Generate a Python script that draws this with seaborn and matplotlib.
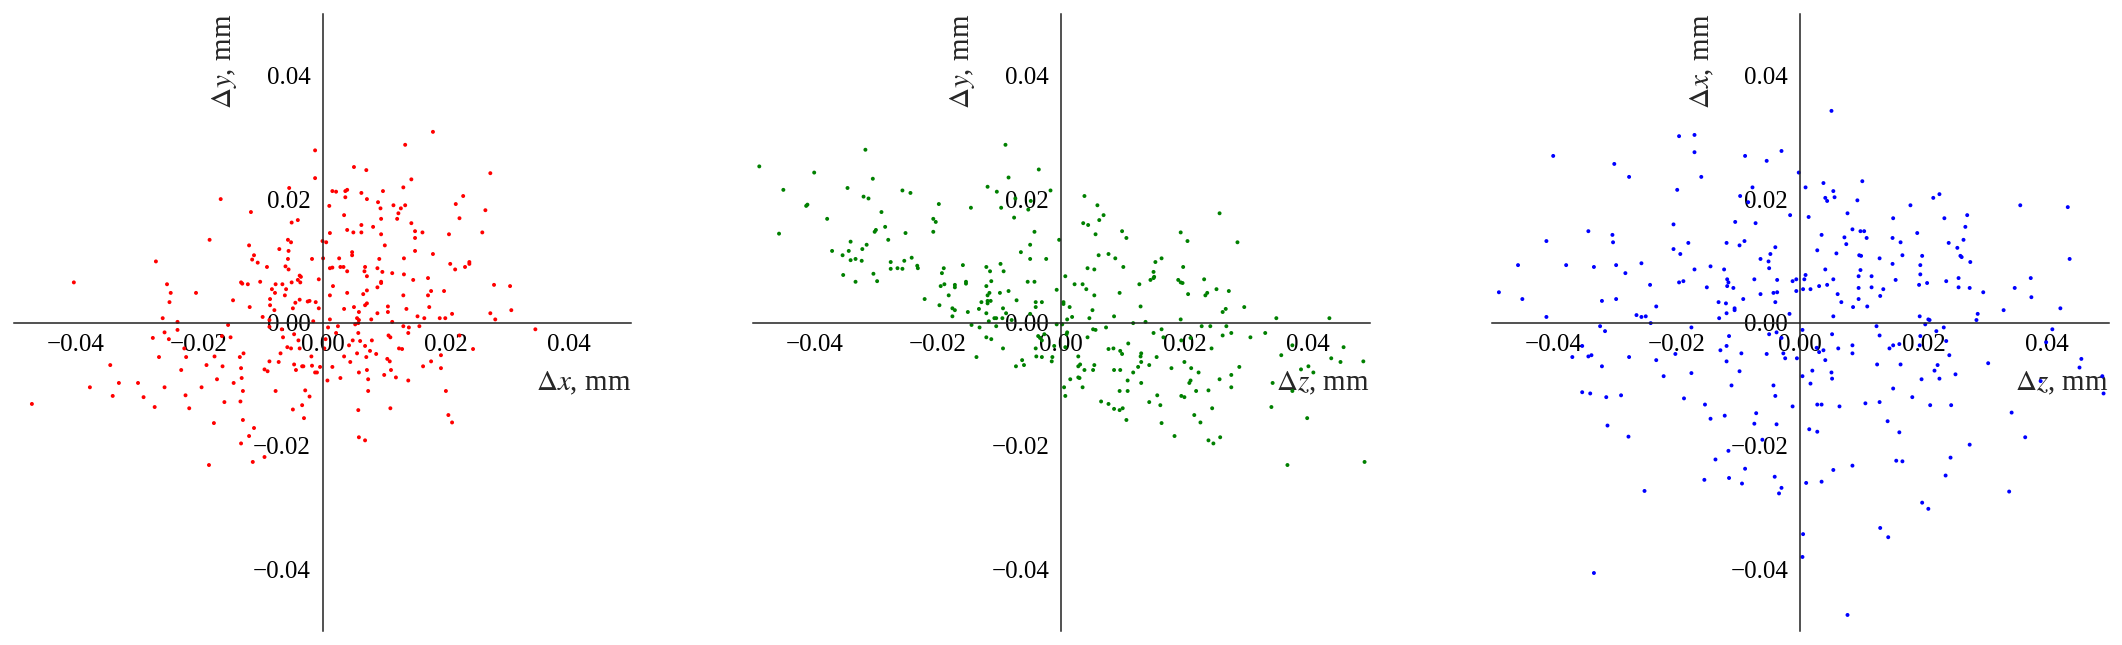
import matplotlib
matplotlib.use("Agg")
import matplotlib.pyplot as plt
import numpy as np
import pandas as pd
import seaborn as sns

# All coordinates in units of 1e-3 mm
# ---- Panel 1: dx (horizontal) vs dy (vertical)
p1_neg_x = [-1.2,-1.2,-5.4,-16.5,-11.6,-4.0,-5.0,-18.3,-5.6,-5.1,
            -11.9,-7.0,-5.5,-11.1,-1.7,-11.4,-5.6,-27.0,-10.5,-9.0,
            -6.0,-5.5,-3.7,-3.5,-0.6,-4.0,-3.6,-5.0,-40.3,-13.2,
            -13.0,-12.1,-10.1,-25.2,-7.6,-6.5,-8.2,-5.9,-7.7,-24.6,
            -20.5,-6.1,-8.5,-3.7,-2.4,-2.1,-1.1,-14.5,-4.4,-24.8,
            -8.5,-7.8,-4.8,-0.6,-11.8,-25.9,-9.7,-1.5,-8.6,-23.5,
            -15.3,-8.6,-25.6,-23.5,-6.6,-4.6,-16.3,-14.9,-27.5,-24.9,
            -6.4,-3.9,-5.7,-5.1,-3.7,-22.4,-6.8,-22.1,-26.5,-12.8,
            -13.4,-17.5,-1.8,-8.6,-7.1,-4.6,-3.3,-3.1,-1.7,-0.4,
            -34.4,-18.8,-16.2,-13.2,-9.4,-8.9,-4.3,-1.2,-0.9,-22.9,
            -17.1,-13.1,-37.7,-33.0,-29.9,-25.6,-19.6,-14.4,-7.6,-2.8,
            -12.9,-34.0,-29.0,-22.2,-2.1,-47.1,-15.9,-13.3,-3.3,-27.2,
            -21.6,-4.8,-3.0,-12.9,-17.6,-11.1,-11.9,-13.2,-9.4,-11.3,
            -18.4]
p1_neg_y = [27.9,23.4,21.8,20.0,17.9,16.6,16.2,13.4,13.4,13.0,
            12.5,11.9,11.6,10.9,10.3,10.2,10.3,9.9,9.7,9.0,
            9.1,8.6,7.6,7.4,7.0,6.9,6.5,6.5,6.5,6.5,
            6.3,6.2,6.6,6.2,6.2,6.2,5.4,5.4,4.8,4.8,
            4.8,4.4,3.8,3.7,3.4,3.5,3.3,3.6,3.2,3.3,
            2.8,2.0,2.3,2.3,2.5,0.7,0.9,0.2,0.4,0.1,
            -0.4,-0.7,-1.6,-1.2,-1.1,-1.9,-2.2,-2.4,-2.5,-2.7,
            -2.4,-2.9,-4.0,-4.2,-4.2,-4.2,-5.0,-5.6,-5.6,-5.0,
            -5.6,-5.5,-5.5,-6.3,-6.4,-6.8,-7.1,-7.1,-7.0,-7.2,
            -6.9,-6.9,-7.1,-7.4,-7.6,-7.9,-7.7,-8.1,-8.1,-7.7,
            -9.2,-9.0,-10.5,-9.8,-9.8,-10.5,-10.5,-9.8,-11.1,-11.0,
            -11.1,-11.9,-12.1,-11.8,-12.0,-13.2,-12.9,-12.8,-13.4,-13.7,
            -13.9,-14.1,-15.5,-15.8,-16.3,-17.1,-18.4,-19.6,-21.8,-22.6,
            -23.1]
p1_pos_x = [17.9,13.4,5.1,7.1,14.4,27.2,1.6,2.2,3.7,4.0,
            6.3,9.8,13.1,3.7,7.2,22.8,9.0,12.7,13.4,11.5,
            9.4,21.6,1.1,26.4,12.3,3.5,9.5,12.1,22.2,14.4,
            6.3,8.2,4.0,5.0,6.3,15.0,16.2,1.2,25.9,9.5,
            20.5,15.0,0.0,0.6,10.1,15.0,4.8,4.8,17.9,0.1,
            2.7,9.2,13.2,23.8,23.8,20.7,23.1,21.5,2.9,3.4,
            1.2,1.6,8.9,4.0,6.9,6.8,9.7,11.3,13.2,7.2,
            14.7,17.1,9.5,9.5,1.7,8.9,27.8,30.4,7.2,17.6,
            19.7,4.0,1.2,6.6,13.1,17.1,7.2,6.9,10.6,5.1,
            17.3,3.5,13.6,30.6,5.9,10.6,8.9,21.0,27.2,15.4,
            16.5,19.0,19.9,28.0,1.2,5.6,5.9,7.9,5.3,5.8,
            11.3,13.1,14.0,15.7,2.5,0.9,34.5,2.2,5.8,13.9,
            22.2,10.7,11.0,0.5,4.9,6.1,8.0,4.3,6.9,0.3,
            7.7,5.6,8.7,12.4,12.9,24.4,3.5,7.1,10.5,10.9,
            19.2,4.5,17.6,16.3,1.6,7.2,11.1,19.2,5.9,10.0,
            0.8,2.9,7.4,11.9,13.9,7.4,20.0,5.8,11.0,20.4,
            21.0,5.9,6.9]
p1_pos_y = [30.9,28.8,25.2,24.7,23.2,24.2,21.3,21.2,21.3,21.5,
            21.0,21.3,21.9,20.3,20.0,20.5,19.5,18.5,19.0,19.0,
            18.5,19.2,18.9,18.2,17.7,17.4,16.8,16.8,16.9,16.1,
            15.8,15.5,15.0,14.6,14.6,14.8,14.6,14.5,14.6,14.3,
            14.3,13.7,13.2,13.0,12.5,11.6,11.4,10.9,11.1,10.4,
            10.4,10.3,10.4,9.8,9.5,9.5,9.0,8.6,9.0,9.0,
            8.8,8.9,8.8,8.3,9.0,8.3,8.2,8.0,7.8,7.5,
            6.9,7.2,6.6,6.4,5.9,5.7,6.1,5.9,5.2,5.1,
            5.1,4.8,4.4,4.6,4.4,4.4,3.1,2.8,2.6,2.5,
            2.5,2.2,2.2,2.0,1.7,1.7,1.5,1.4,1.5,1.0,
            0.7,0.7,0.7,0.5,0.5,0.7,0.4,0.5,-0.3,-0.1,
            0.1,-0.6,-0.8,-0.6,-0.6,-0.8,-1.1,-1.7,-1.7,-1.7,
            -2.1,-2.1,-2.4,-2.7,-2.9,-3.0,-2.9,-3.7,-3.8,-4.2,
            -4.6,-5.0,-5.1,-4.2,-4.3,-4.3,-5.5,-5.6,-5.9,-6.3,
            -5.3,-6.4,-6.3,-7.1,-7.2,-7.7,-7.7,-7.4,-8.1,-8.5,
            -9.4,-9.0,-9.2,-8.9,-9.4,-11.1,-11.1,-14.2,-13.9,-15.0,
            -16.2,-18.6,-19.1]

# ---- Panel 2: dz (horizontal) vs dy (vertical)
p2_neg_x = [-48.9,-31.7,-9.0,-40.0,-3.6,-45.0,-30.5,-34.6,-8.5,-11.9,
            -10.4,-1.7,-25.7,-24.4,-32.0,-31.2,-7.4,-4.9,-19.8,-41.3,
            -41.1,-9.7,-14.6,-5.3,-29.1,-37.9,-7.6,-20.7,-20.3,-45.7,
            -30.0,-30.2,-28.5,-25.2,-20.7,-4.3,-28.0,-0.3,-34.1,-31.5,
            -5.0,-32.2,-37.1,-34.4,-6.5,-35.4,-34.1,-33.3,-32.3,-24.2,
            -25.4,-5.0,-2.4,-27.6,-15.9,-23.3,-23.2,-27.6,-26.5,-25.7,
            -19.0,-12.1,-9.8,-11.5,-9.3,-19.3,-30.4,-35.3,-33.3,-29.8,
            -15.4,-15.4,-11.3,-5.4,-4.3,-17.2,-17.2,-18.9,-19.5,-12.1,
            -8.5,-9.9,-11.6,-11.9,-0.7,-18.2,-22.1,-7.2,-11.4,-11.9,
            -12.9,-11.9,-4.1,-3.1,-19.7,-17.6,-17.2,-13.3,-9.4,-4.1,
            -15.1,-12.1,-8.9,-5.0,-17.6,-10.8,-10.5,-9.5,-11.7,-8.0,
            -14.5,-10.5,-13.2,-0.7,-2.7,-3.7,-3.4,-12.1,-11.3,-3.1,
            -1.1,-9.4,-4.1,-13.7,-4.0,-3.1,-1.4,-1.5,-6.3,-6.0,
            -7.3]
p2_neg_y = [25.3,28.0,28.8,24.3,24.8,21.5,23.3,21.8,23.5,22.0,
            21.2,21.4,21.4,21.0,20.4,20.1,20.1,19.7,19.2,18.9,
            19.1,18.6,18.6,18.3,17.9,16.8,17.0,16.8,16.3,14.4,
            15.0,14.7,15.5,14.5,14.7,14.7,13.4,13.4,13.1,12.6,
            12.6,11.9,11.6,11.6,11.4,10.9,10.1,10.3,10.0,10.5,
            10.0,10.3,10.3,9.8,9.3,9.2,8.8,8.7,8.8,8.7,
            8.8,9.0,9.5,8.3,8.3,8.0,7.9,7.7,6.6,6.7,
            6.6,6.3,6.7,6.6,6.6,6.1,5.7,6.2,5.9,5.9,
            5.1,4.8,4.8,4.4,5.3,4.4,3.8,3.6,3.5,3.5,
            3.3,3.1,3.3,3.3,2.8,2.3,2.0,2.2,2.3,2.5,
            1.7,1.5,1.5,1.4,1.0,0.7,0.7,0.7,0.2,0.4,
            -0.4,-0.6,-0.8,-0.3,-1.9,-2.2,-2.5,-2.4,-2.7,-2.9,
            -3.8,-4.2,-4.2,-5.6,-5.5,-5.6,-5.6,-6.3,-6.1,-6.9,
            -7.1]
p2_pos_x = [3.8,5.9,6.9,6.2,25.7,3.6,4.4,9.9,10.6,19.4,
            5.6,20.5,28.6,6.1,7.7,8.8,16.3,15.3,4.3,5.4,
            10.1,19.8,15.0,15.1,15.0,14.5,0.7,23.2,19.0,19.4,
            19.7,2.2,3.5,12.7,4.1,25.2,27.2,9.5,5.4,20.6,
            23.7,23.4,0.4,0.4,12.9,1.4,29.7,5.1,26.7,26.2,
            8.6,1.8,4.6,1.0,19.4,34.9,43.5,11.7,13.7,0.2,
            7.3,5.2,5.6,22.8,24.2,26.8,16.3,15.0,1.0,0.9,
            33.1,26.2,27.6,4.3,30.7,16.6,19.5,10.9,21.0,0.7,
            7.7,8.5,24.4,9.6,9.9,13.0,12.9,15.5,2.8,35.7,
            37.5,45.8,43.8,45.3,49.0,13.0,20.0,3.1,2.8,5.4,
            12.5,14.3,17.9,21.1,28.9,40.1,38.9,40.9,3.8,5.2,
            8.6,9.6,11.7,22.3,27.6,2.8,3.0,1.5,10.8,21.0,
            20.8,25.7,13.0,34.3,0.5,3.5,27.6,23.9,9.5,10.8,
            21.9,37.5,0.7,15.6,19.5,20.0,6.5,14.3,7.7,16.1,
            34.1,24.5,8.6,9.5,10.0,21.6,39.9,10.6,22.6,16.3,
            18.4,25.8,23.9,24.7,36.7,49.2]
p2_pos_y = [20.5,19.0,17.4,16.6,17.7,16.1,15.8,14.8,13.7,14.6,
            14.3,13.2,13.0,10.9,11.1,10.4,10.4,9.8,8.8,8.6,
            9.0,9.0,8.2,7.4,7.2,6.9,7.5,7.0,6.9,6.5,
            6.4,6.2,6.2,6.2,5.4,5.4,5.1,4.8,4.4,4.6,
            4.8,4.4,3.3,3.0,2.6,2.5,2.5,2.0,2.2,1.7,
            1.0,0.9,0.7,0.5,0.5,0.7,0.7,-0.1,0.1,-0.3,
            -0.8,-1.1,-1.2,-0.6,-0.6,-0.6,-1.1,-1.7,-1.6,-1.9,
            -1.7,-2.1,-1.7,-2.4,-2.4,-2.4,-2.9,-3.4,-2.5,-4.0,
            -4.3,-4.2,-4.2,-4.6,-5.1,-5.0,-5.5,-5.6,-5.5,-5.3,
            -3.7,-4.0,-5.8,-6.4,-6.3,-6.4,-6.4,-6.8,-7.1,-6.9,
            -7.2,-6.9,-7.4,-7.4,-7.2,-7.1,-7.6,-8.1,-7.7,-7.7,
            -7.7,-7.7,-8.1,-8.1,-8.5,-8.9,-9.0,-9.2,-9.4,-9.4,
            -9.8,-9.2,-9.8,-9.8,-10.5,-10.5,-10.5,-11.0,-11.1,-11.1,
            -11.1,-11.1,-11.9,-11.8,-11.9,-12.1,-12.8,-12.9,-13.2,-13.4,
            -13.7,-13.9,-14.0,-14.2,-13.9,-15.0,-15.5,-15.8,-16.2,-16.3,
            -18.4,-18.6,-19.1,-19.6,-23.1,-22.6]

# ---- Panel 3: dz (horizontal) vs dx (vertical)
p3_neg_x = [-19.6,-17.1,-17.1,-40.0,-8.9,-3.0,-5.4,-30.1,-27.7,-16.0,
            -0.2,-7.7,-19.9,-9.7,-8.4,-1.6,-10.5,-7.2,-20.5,-34.3,
            -30.4,-30.3,-41.1,-18.1,-11.9,-9.0,-9.8,-4.0,-20.5,-19.4,
            -4.8,-6.4,-5.1,-45.7,-37.9,-33.4,-29.8,-25.7,-14.5,-5.0,
            -17.1,-12.3,-28.3,-11.8,-11.6,-7.4,-3.7,-1.2,-0.6,-19.6,
            -18.9,-24.3,-11.8,-10.8,-15.1,-0.6,-48.8,-6.4,-4.3,-3.7,
            -45.0,-29.8,-32.1,-9.2,-13.2,-12.0,-4.0,-23.3,-10.6,-10.6,
            -11.9,-1.7,-26.5,-25.7,-25.0,-41.1,-13.1,-24.2,-32.4,-31.6,
            -17.6,-5.0,-3.8,-11.5,-3.0,-35.3,-11.9,-12.9,-34.3,-33.8,
            -36.9,-27.7,-20.2,-9.5,-5.4,-2.4,-2.7,-23.3,-0.5,
            -11.9,-32.1,-22.1,-17.6,-9.8,-11.1,-4.3,-35.3,-34.0,-31.4,
            -29.0,-18.8,-4.0,-15.4,-1.2,-12.2,-14.5,-7.1,-7.4,-3.8,
            -31.2,-27.8,-6.1,-11.6,-13.7,-8.9,-15.5,-11.5,-9.4,-4.1,
            -3.0,-3.4,-25.2,-33.4]
p3_neg_y = [30.2,30.4,27.6,27.0,27.0,27.8,26.2,25.7,23.6,23.6,
            24.3,21.9,21.5,20.5,19.5,17.4,16.3,16.1,15.9,14.8,
            14.2,13.0,13.2,12.9,12.9,13.2,12.5,12.2,11.9,11.1,
            11.1,10.3,9.9,9.3,9.3,9.0,9.3,9.6,9.1,8.8,
            8.6,8.6,8.0,7.0,6.5,7.0,6.9,6.7,7.0,6.5,
            6.7,6.1,5.9,5.6,5.7,5.1,4.9,4.6,4.8,4.9,
            3.8,3.8,3.5,3.8,3.3,3.1,3.3,2.6,2.3,2.0,
            1.5,1.4,1.2,0.9,1.0,0.9,0.7,-0.1,-0.6,-1.4,
            -0.8,-1.9,-1.6,-2.2,-2.5,-3.8,-3.8,-4.5,-5.5,-5.3,
            -5.6,-5.6,-5.1,-5.0,-5.1,-5.8,-5.0,-6.1,-5.8,
            -6.3,-7.1,-8.7,-8.2,-7.9,-10.2,-10.2,-11.3,-11.5,-12.1,
            -11.8,-12.3,-11.9,-13.3,-13.6,-15.1,-15.6,-14.7,-16.4,-16.5,
            -16.7,-18.5,-19.0,-20.8,-22.2,-23.7,-25.5,-25.2,-26.1,-25.0,
            -26.8,-27.7,-27.3,-40.6]
p3_pos_x = [5.1,3.8,10.1,0.9,5.4,4.1,4.4,5.6,9.3,21.6,
            22.6,17.9,35.7,43.4,1.4,7.7,15.1,23.4,27.1,26.8,
            8.5,9.8,10.4,3.5,7.2,10.8,15.0,19.0,26.5,7.5,
            16.3,24.1,25.5,2.8,5.9,9.6,9.9,16.6,19.8,26.0,
            26.2,12.9,43.7,27.6,15.0,19.5,4.1,9.8,19.5,9.5,
            11.6,0.9,0.7,5.4,25.7,37.4,15.5,23.7,20.6,3.1,
            4.4,11.6,19.3,9.5,13.5,25.7,27.5,34.8,0.5,1.7,
            6.1,29.7,13.0,37.5,6.7,9.5,8.6,10.9,42.2,33.0,
            28.8,28.6,5.4,19.4,20.8,21.0,0.4,20.3,12.4,23.3,
            40.9,22.1,5.2,12.9,19.5,39.9,23.7,8.5,6.2,14.5,
            15.1,16.1,19.4,2.7,3.8,3.1,8.5,4.1,24.2,45.6,
            0.4,2.0,1.7,5.1,5.2,12.5,16.3,22.3,21.8,22.6,
            19.7,25.2,30.5,45.3,49.0,49.2,39.0,15.1,18.2,2.8,
            3.5,6.4,10.6,12.9,21.1,24.5,34.3,14.2,1.5,2.8,
            16.1,36.5,27.5,24.4,15.6,16.6,8.5,5.4,1.0,3.5,
            23.6,33.9,19.8,20.8,13.0,14.3,0.5,0.4,7.7]
p3_pos_y = [34.3,22.6,22.9,21.9,21.3,20.2,19.7,20.3,19.8,20.2,
            20.8,19.0,19.0,18.7,17.1,17.7,16.9,16.9,17.4,15.5,
            15.1,14.8,14.8,14.2,13.8,13.7,13.7,14.5,13.4,12.7,
            13.0,12.9,12.1,11.7,11.2,10.9,10.8,10.9,10.8,10.8,
            10.6,10.4,10.3,9.8,9.5,9.3,8.6,8.5,7.8,7.5,
            7.5,7.7,7.0,7.0,7.2,7.2,6.9,6.7,6.4,5.9,
            6.1,5.7,6.1,5.6,5.4,5.7,5.6,5.6,5.4,5.4,
            4.6,4.9,4.3,4.1,3.3,3.8,2.5,2.6,2.3,2.0,
            1.4,0.4,1.0,1.0,0.5,0.4,-1.2,-0.3,-0.6,-0.8,
            -1.1,-1.4,-1.9,-2.1,-2.2,-3.2,-3.0,-3.7,-4.2,-4.2,
            -3.7,-3.5,-3.7,-4.1,-4.5,-4.8,-5.0,-6.1,-5.3,-5.9,
            -8.7,-7.8,-9.9,-8.1,-9.1,-6.8,-6.8,-6.9,-7.8,-9.1,
            -9.2,-8.4,-6.6,-7.3,-8.7,-11.5,-9.5,-10.7,-12.1,-13.3,
            -13.3,-13.6,-13.1,-12.9,-13.4,-13.4,-14.6,-16.0,-17.3,-17.7,
            -17.8,-18.6,-19.8,-21.9,-22.4,-22.5,-23.2,-23.9,-26.0,-25.8,
            -24.8,-27.4,-29.2,-30.2,-33.3,-34.8,-34.3,-38.0,-47.4]

tick_values = [-0.04, -0.02, 0.00, 0.02, 0.04]
x_labels = [r"$\Delta x$, mm", r"$\Delta z$, mm", r"$\Delta z$, mm"]
y_labels = [r"$\Delta y$, mm", r"$\Delta y$, mm", r"$\Delta x$, mm"]
colors = ["#ff0000", "#008000", "#0000ff"]

panels = [
    (p1_neg_x + p1_pos_x, p1_neg_y + p1_pos_y),
    (p2_neg_x + p2_pos_x, p2_neg_y + p2_pos_y),
    (p3_neg_x + p3_pos_x, p3_neg_y + p3_pos_y),
]

sns.set_theme(style="white")
plt.rcParams["font.family"] = ["Liberation Serif", "DejaVu Serif"]
plt.rcParams["mathtext.fontset"] = "stix"
plt.rcParams["axes.unicode_minus"] = True

W, H = 2122, 645
fig = plt.figure(figsize=(W / 100, H / 100), dpi=100)
lefts = [14, 752.5, 1491.5]
aw, ah = 617, 617
bottom = 14.0

for i, (xs, ys) in enumerate(panels):
    ax = fig.add_axes([lefts[i] / W, bottom / H, aw / W, ah / H])
    df = pd.DataFrame({"h": np.array(xs) * 1e-3, "v": np.array(ys) * 1e-3})
    sns.scatterplot(data=df, x="h", y="v", ax=ax, color=colors[i], s=8,
                    linewidth=0, edgecolor="none")
    ax.set_xlim(-0.05, 0.05)
    ax.set_ylim(-0.05, 0.05)
    ax.set_xticks(tick_values)
    ax.set_yticks(tick_values)
    for side in ("top", "right"):
        ax.spines[side].set_visible(False)
    for side in ("left", "bottom"):
        ax.spines[side].set_position("zero")
        ax.spines[side].set_linewidth(1.1)
        ax.spines[side].set_color("#222222")
    ax.tick_params(axis="both", direction="out", length=5, width=1.1,
                   labelsize=18, colors="#222222", labelcolor="black")
    ax.set_xlabel(x_labels[i], loc="right", fontsize=21, labelpad=10)
    ax.set_ylabel(y_labels[i], loc="top", fontsize=21, labelpad=10)
    ax.grid(False)
    ax.set_facecolor("white")

fig.savefig("out.png", dpi=100, facecolor="white")
